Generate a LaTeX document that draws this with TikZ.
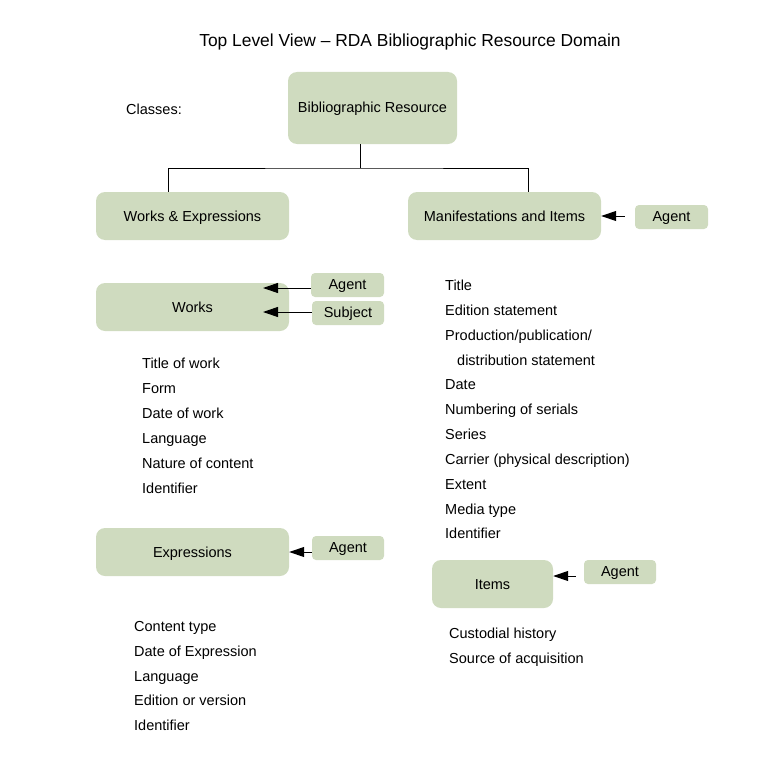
\documentclass[tikz,border=0pt]{standalone}
\usepackage{fontspec}
\setmainfont{Liberation Sans}
\usetikzlibrary{arrows.meta}
\definecolor{boxgreen}{RGB}{207,219,191}
\tikzset{
  big/.style={fill=boxgreen, draw=none, rounded corners=9pt, inner sep=0pt, text height=12pt, text depth=2pt, font=\fontsize{14.5}{17}\selectfont},
  small/.style={fill=boxgreen, draw=none, rounded corners=4pt, inner sep=0pt, text height=11pt, text depth=3pt, minimum width=73pt, minimum height=24pt, font=\fontsize{14.5}{17}\selectfont},
  txt/.style={anchor=base west, inner sep=0pt, font=\fontsize{14.5}{17}\selectfont},
  conn/.style={draw=black, line width=1pt},
  arr/.style={draw=black, line width=1pt, -{Triangle[length=15pt,width=10pt]}},
}
\begin{document}
\begin{tikzpicture}[x=1pt,y=-1pt]
\useasboundingbox (0,0) rectangle (767,757);
\node[anchor=base, inner sep=0pt, font=\fontsize{17.4}{20}\selectfont] (title) at (410,47) {Top Level View – RDA Bibliographic Resource Domain};
\node[txt] (classes) at (126,114) {Classes:};

\node[big, minimum width=169pt, minimum height=72pt] (br) at (372.5,108) {Bibliographic Resource};
\node[big, minimum width=193pt, minimum height=48pt] (we) at (192.5,216) {Works \& Expressions};
\node[big, minimum width=193pt, minimum height=48pt] (mi) at (504.5,216) {Manifestations and Items};
\node[small] (agm) at (671.5,217) {Agent};

\coordinate (j) at (360,168);
\draw[conn] (br.south -| j) -- (j);
\draw[conn] (we.north -| 168,0) |- (j) -| (mi.north -| 528,0);

\draw[arr] (agm.west) ++(-10,-1) -- (mi.east);

% Works
\node[big, minimum width=193pt, minimum height=48pt] (w) at (192.5,307) {Works};
\node[small] (wa) at (347.5,285) {Agent};
\node[small, minimum width=72pt] (ws) at (348,313) {Subject};
\coordinate (wat) at (263,288);
\coordinate (wst) at (263,312);
\draw[arr] (wa.west |- wat) -- (wat);
\draw[arr] (ws.west |- wst) -- (wst);

\node[txt] (w1) at (142,368) {Title of work};
\node[txt] (w2) at (142,393) {Form};
\node[txt] (w3) at (142,418) {Date of work};
\node[txt] (w4) at (142,443) {Language};
\node[txt] (w5) at (142,468) {Nature of content};
\node[txt] (w6) at (142,493) {Identifier};

% Expressions
\node[big, minimum width=193pt, minimum height=48pt] (e) at (192.5,552) {Expressions};
\node[small, minimum width=72pt] (ea) at (348,548) {Agent};
\draw[arr] (ea.west |- e.east) -- (e.east);

\node[txt] (e1) at (134,631) {Content type};
\node[txt] (e2) at (134,656) {Date of Expression};
\node[txt] (e3) at (134,681) {Language};
\node[txt] (e4) at (134,705) {Edition or version};
\node[txt] (e5) at (134,730) {Identifier};

% Manifestations
\node[txt] (m1) at (445,290) {Title};
\node[txt] (m2) at (445,315) {Edition statement};
\node[txt] (m3) at (445,340) {Production/publication/};
\node[txt] (m4) at (457,365) {distribution statement};
\node[txt] (m5) at (445,389) {Date};
\node[txt] (m6) at (445,414) {Numbering of serials};
\node[txt] (m7) at (445,439) {Series};
\node[txt] (m8) at (445,464) {Carrier (physical description)};
\node[txt] (m9) at (445,489) {Extent};
\node[txt] (m10) at (445,514) {Media type};
\node[txt] (m11) at (445,538) {Identifier};

% Items
\node[big, minimum width=121pt, minimum height=48pt] (it) at (492.5,584) {Items};
\node[small, minimum width=72pt] (ia) at (620,572) {Agent};
\draw[arr] (ia.west) ++(-8,4) -- (it.east |- 0,576);

\node[txt] (i1) at (449,638) {Custodial history};
\node[txt] (i2) at (449,663) {Source of acquisition};
\end{tikzpicture}
\end{document}
